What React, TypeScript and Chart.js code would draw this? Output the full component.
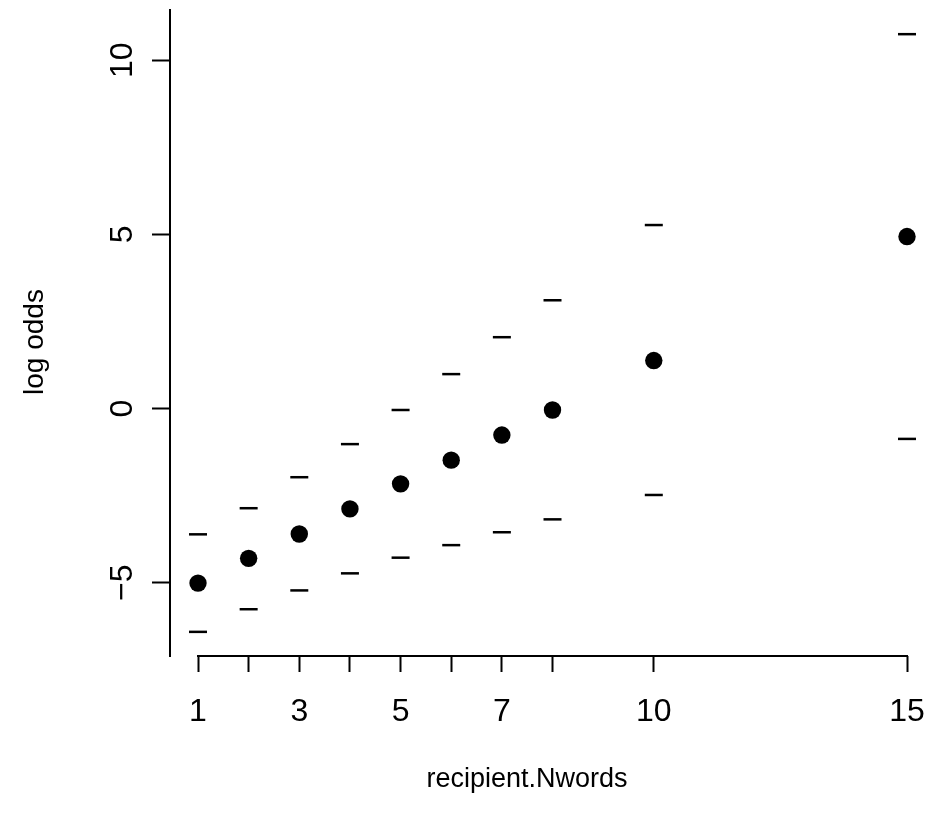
import { useEffect, useRef } from "react";
import { Chart, registerables } from "chart.js";

Chart.register(...registerables);

const xValues = [1, 2, 3, 4, 5, 6, 7, 8, 10, 15];
const estimates = [-5.01, -4.3, -3.6, -2.88, -2.16, -1.48, -0.76, -0.04, 1.38, 4.94];
const upperBounds = [-3.61, -2.86, -1.97, -1.02, -0.04, 0.99, 2.05, 3.11, 5.27, 10.75];
const lowerBounds = [-6.41, -5.76, -5.22, -4.73, -4.28, -3.92, -3.55, -3.18, -2.48, -0.87];
const xTicks = [1, 2, 3, 4, 5, 6, 7, 8, 10, 15];
const xTickLabels = [1, 3, 5, 7, 10, 15];
const yTicks = [-5, 0, 5, 10];
const xTitle = "recipient.Nwords";
const yTitle = "log odds";

const FONT = "'Liberation Sans', Arial, Helvetica, sans-serif";

const axisDecor = {
  id: "axisDecor",
  afterDraw(chart: any) {
    const xs = chart.scales.x;
    const ctx = chart.ctx;
    const area = chart.chartArea;
    const y = Math.round(area.bottom);
    ctx.save();
    ctx.strokeStyle = "#000";
    ctx.lineWidth = 2;
    ctx.beginPath();
    ctx.moveTo(xs.getPixelForValue(xTicks[0]) - 1, y);
    ctx.lineTo(xs.getPixelForValue(xTicks[xTicks.length - 1]) + 1, y);
    ctx.stroke();
    ctx.fillStyle = "#000";
    ctx.textAlign = "center";
    ctx.textBaseline = "middle";
    // x axis title
    ctx.font = `27px ${FONT}`;
    const cx = (area.left + xs.getPixelForValue(xTicks[xTicks.length - 1]) - 23) / 2;
    ctx.fillText(xTitle, cx, chart.height - 39);
    // y axis title
    ctx.font = `28px ${FONT}`;
    ctx.translate(35, (area.top + area.bottom) / 2 + 9);
    ctx.rotate(-Math.PI / 2);
    ctx.fillText(yTitle, 0, 0);
    ctx.restore();
  },
};

export default function App() {
  const ref = useRef<HTMLCanvasElement | null>(null);

  useEffect(() => {
    document.body.style.margin = "0";
    const canvas = ref.current;
    if (!canvas) return;
    const toPts = (ys: number[]) => xValues.map((x, i) => ({ x, y: ys[i] }));
    const noPad = (scale: any) => {
      scale.paddingTop = 0;
      scale.paddingBottom = 0;
      scale.paddingLeft = 0;
      scale.paddingRight = 0;
    };
    const chart = new Chart(canvas, {
      type: "scatter",
      data: {
        datasets: [
          {
            label: "upper",
            data: toPts(upperBounds),
            pointStyle: "line",
            pointRadius: 9,
            borderColor: "#000",
            backgroundColor: "#000",
            borderWidth: 2.5,
          },
          {
            label: "lower",
            data: toPts(lowerBounds),
            pointStyle: "line",
            pointRadius: 9,
            borderColor: "#000",
            backgroundColor: "#000",
            borderWidth: 2.5,
          },
          {
            label: "estimate",
            data: toPts(estimates),
            pointStyle: "circle",
            pointRadius: 8.7,
            borderWidth: 0,
            backgroundColor: "#000",
            borderColor: "#000",
          },
        ],
      },
      options: {
        animation: false,
        responsive: false,
        devicePixelRatio: 1,
        layout: { autoPadding: false, padding: { top: 10, right: 0, left: 0, bottom: 0 } },
        plugins: { legend: { display: false }, tooltip: { enabled: false } },
        scales: {
          x: {
            type: "linear",
            min: 0.447,
            max: 15.454,
            afterBuildTicks: (axis: any) => {
              axis.ticks = xTicks.map((v) => ({ value: v }));
            },
            afterFit: (scale: any) => {
              scale.height = 163;
              noPad(scale);
            },
            grid: {
              display: true,
              drawOnChartArea: false,
              drawTicks: true,
              tickLength: 16,
              tickWidth: 2,
              tickColor: "#000",
            },
            border: { display: false },
            ticks: {
              color: "#000",
              autoSkip: false,
              maxRotation: 0,
              minRotation: 0,
              padding: 21,
              font: { family: FONT, size: 32 },
              callback: (v: any) => (xTickLabels.includes(Number(v)) ? String(v) : ""),
            },
            title: { display: false, text: xTitle },
          },
          y: {
            type: "linear",
            min: -7.103,
            max: 11.444,
            afterBuildTicks: (axis: any) => {
              axis.ticks = yTicks.map((v) => ({ value: v }));
            },
            afterFit: (scale: any) => {
              scale.width = 170;
              noPad(scale);
            },
            grid: {
              display: true,
              drawOnChartArea: false,
              drawTicks: true,
              tickLength: 18,
              tickWidth: 2,
              tickColor: "#000",
            },
            border: { display: true, color: "#000", width: 2 },
            ticks: {
              color: "#000",
              minRotation: 90,
              maxRotation: 90,
              crossAlign: "center",
              padding: 11,
              font: { family: FONT, size: 32 },
              callback: (v: any) => (Number(v) < 0 ? "\u2212" + Math.abs(Number(v)) : String(v)),
            },
            title: { display: false, text: yTitle },
          },
        },
      },
      plugins: [axisDecor],
    } as any);
    return () => chart.destroy();
  }, []);

  return (
    <div style={{ position: "absolute", left: 0, top: 0, width: 930, height: 819, background: "#fff" }}>
      <canvas ref={ref} width={930} height={819} />
    </div>
  );
}
